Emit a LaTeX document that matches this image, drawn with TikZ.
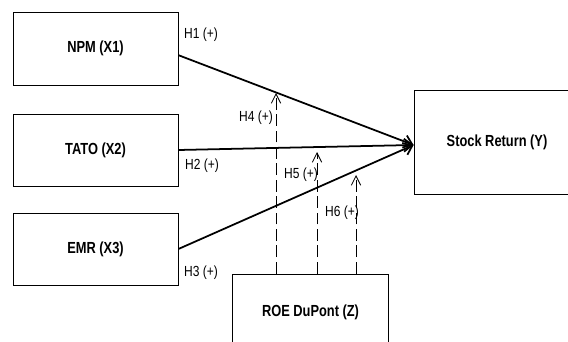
\documentclass[tikz,border=0pt]{standalone}
\usepackage{fontspec}
\setmainfont{Liberation Sans}
\newfontfamily\narrowfont[FakeStretch=0.8]{Liberation Sans}
\newfontfamily\labelfont[FakeStretch=0.82]{Liberation Sans}
\usetikzlibrary{arrows.meta}

\begin{document}
\begin{tikzpicture}[x=0.03cm, y=-0.03cm,
    varbox/.style = {draw, line width=0.7pt, inner sep=0pt,
      font=\narrowfont\bfseries\fontsize{13.7}{16}\selectfont},
    effect/.style = {line width=1.5pt, -{Straight Barb[length=7pt,width=11pt]}},
    moder/.style = {line width=0.7pt, dash pattern=on 10pt off 4pt,
      -{Straight Barb[length=8pt,width=8pt]}},
    hyp/.style = {inner sep=0pt, font=\labelfont\fontsize{12.5}{15}\selectfont}]
    \clip (0,0) rectangle (568,342);
    \fill[white] (0,0) rectangle (568,342);

    % variables
    \node[varbox, minimum width=4.95cm, minimum height=2.19cm] (npm) at (95.5,48.5) {NPM (X1)};
    \node[varbox, minimum width=4.95cm, minimum height=2.16cm] (tato) at (95.5,150) {TATO (X2)};
    \node[varbox, minimum width=4.95cm, minimum height=2.16cm] (emr) at (95.5,249) {EMR (X3)};
    \node[varbox, minimum width=4.98cm, minimum height=3.12cm] (stock) at (497,142) {Stock Return (Y)};
    \node[varbox, minimum width=4.68cm, minimum height=2.28cm] (roe) at (310.5,312) {ROE DuPont (Z)};

    \coordinate (tip) at ([yshift=-0.9mm]stock.west);

    % direct effects
    \draw[effect] ([yshift=-2mm]npm.east) -- (tip);
    \draw[effect] (tato.east) -- (tip);
    \draw[effect] (emr.east) -- (tip);

    % moderation
    \coordinate (h4) at (276,93);
    \coordinate (h5) at (317,152);
    \coordinate (h6) at (356,175);
    \draw[moder] (h4 |- roe.north) -- (h4);
    \draw[moder] (h5 |- roe.north) -- (h5);
    \draw[moder] (h6 |- roe.north) -- (h6);

    \node[hyp] (l1) at (201,35) {H1 (+)};
    \node[hyp] (l2) at (202,166) {H2 (+)};
    \node[hyp] (l3) at (201,273) {H3 (+)};
    \node[hyp] (l4) at (256,118) {H4 (+)};
    \node[hyp] (l5) at (301,175) {H5 (+)};
    \node[hyp] (l6) at (342,213) {H6 (+)};
\end{tikzpicture}
\end{document}
